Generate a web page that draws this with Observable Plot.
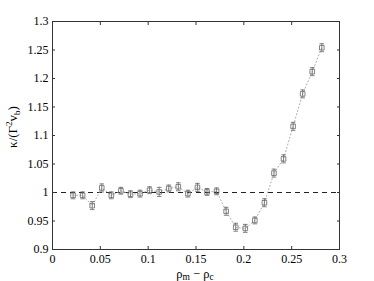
<!DOCTYPE html>
<html><head><meta charset="utf-8">
<script src="https://cdn.jsdelivr.net/npm/d3@7"></script>
<script src="https://cdn.jsdelivr.net/npm/@observablehq/plot@0.6"></script>
<style>body{margin:0;background:#fff} svg text{font-family:'Liberation Serif','Times New Roman',serif}</style>
</head><body><div id="chart"></div>
<script>
const rho = [0.0215,0.0315,0.0415,0.0515,0.0615,0.0715,0.0815,0.0915,0.1015,0.1115,0.1215,0.1315,0.1415,0.1515,0.1615,0.1715,0.1815,0.1915,0.2015,0.2115,0.2215,0.2315,0.2415,0.2515,0.2615,0.2715,0.2815];
const kappa = [0.995,0.995,0.977,1.008,0.995,1.003,0.997,0.998,1.004,1.001,1.007,1.010,0.998,1.009,1.001,1.002,0.967,0.939,0.937,0.951,0.982,1.034,1.059,1.116,1.173,1.212,1.254];
const err = [0.006,0.006,0.007,0.007,0.006,0.006,0.006,0.006,0.006,0.008,0.006,0.007,0.006,0.007,0.006,0.006,0.007,0.007,0.007,0.006,0.007,0.007,0.007,0.007,0.007,0.007,0.007];
const xTicks = [0,0.05,0.1,0.15,0.2,0.25,0.3];
const yTicks = [0.9,0.95,1,1.05,1.1,1.15,1.2,1.25,1.3];
const refLine = [1];

const data = rho.map((x,i)=>({x, y:kappa[i], e:err[i]}));
const fmt = d => String(+d.toFixed(2));
const squareSym = {draw(ctx,size){const r=Math.sqrt(size)/2; ctx.moveTo(-r,-r); ctx.lineTo(r,-r); ctx.lineTo(r,r); ctx.lineTo(-r,r); ctx.closePath();}};
const capSym = {draw(ctx,size){const r=Math.sqrt(size)/2; ctx.moveTo(-r,0); ctx.lineTo(r,0);}};
const mk = "#666";

const plot = Plot.plot({
  width:374, height:281,
  marginLeft:52, marginRight:35, marginTop:21, marginBottom:32,
  style:{fontFamily:"'Liberation Serif','Times New Roman',serif", fontSize:"12px", color:"#000", background:"#fff"},
  x:{domain:[0,0.3]},
  y:{domain:[0.9,1.3]},
  marks:[
    Plot.ruleY(refLine, {stroke:"#222", strokeDasharray:"5,4"}),
    Plot.line(data, {x:"x", y:"y", stroke:"#aaa", strokeWidth:1, strokeDasharray:"1,2.5"}),
    Plot.ruleX(data, {x:"x", y1:d=>d.y-d.e, y2:d=>d.y+d.e, stroke:mk, strokeWidth:0.8}),
    Plot.dot(data, {x:"x", y:d=>d.y+d.e, symbol:capSym, r:2.6, stroke:mk, strokeWidth:0.8}),
    Plot.dot(data, {x:"x", y:d=>d.y-d.e, symbol:capSym, r:2.6, stroke:mk, strokeWidth:0.8}),
    Plot.dot(data, {x:"x", y:"y", symbol:squareSym, r:2.6, stroke:mk, strokeWidth:0.8, fill:"none"}),
    Plot.frame({stroke:"#333"}),
    Plot.axisX({anchor:"bottom", ticks:xTicks, tickSize:-3, tickPadding:8, tickFormat:fmt, label:null, stroke:"#333"}),
    Plot.axisX({anchor:"top", ticks:xTicks, tickSize:-3, tickFormat:()=>"", label:null, stroke:"#333"}),
    Plot.axisY({anchor:"left", ticks:yTicks, tickSize:-3, tickPadding:7, tickFormat:fmt, label:null, stroke:"#333"}),
    Plot.axisY({anchor:"right", ticks:yTicks, tickSize:-3, tickFormat:()=>"", label:null, stroke:"#333"})
  ]
});

const svg = d3.select(plot);
const xl = svg.append("text").attr("x",195).attr("y",277.5).attr("text-anchor","middle").style("font-size","12.5px").attr("fill","#000");
xl.append("tspan").text("ρ");
xl.append("tspan").attr("dy",2.5).style("font-size","9.5px").text("m");
xl.append("tspan").attr("dy",-2.5).text(" − ρ");
xl.append("tspan").attr("dy",2.5).style("font-size","9.5px").text("c");

const yl = svg.append("text").attr("transform","translate(17,127) rotate(-90)").attr("text-anchor","middle").style("font-size","13px").attr("fill","#000");
yl.append("tspan").text("κ/(Γ");
yl.append("tspan").attr("dy",-5).style("font-size","9px").text("2");
yl.append("tspan").attr("dy",5).text("v");
yl.append("tspan").attr("dy",3).style("font-size","9px").text("b");
yl.append("tspan").attr("dy",-3).text(")");

document.getElementById("chart").appendChild(plot);
</script>
</body></html>
